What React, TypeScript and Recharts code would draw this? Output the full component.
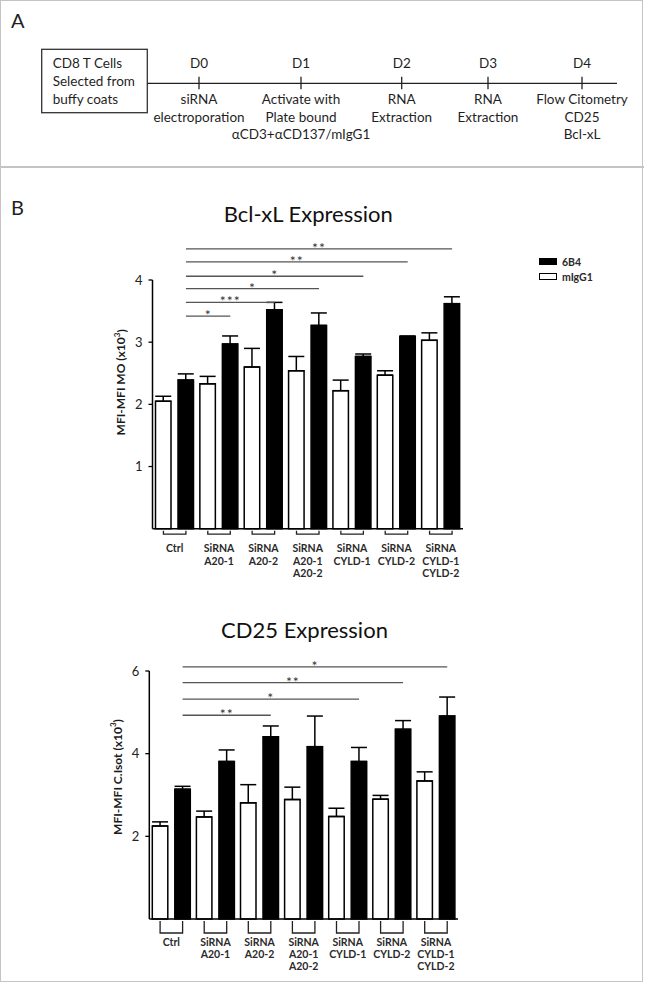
import React from "react";
import { Bar, BarChart, ErrorBar, Legend, ReferenceLine, XAxis, YAxis } from "recharts";

// groups along the x axis (space separated words become stacked label lines)
const categories = [
  "Ctrl",
  "SiRNA A20-1",
  "SiRNA A20-2",
  "SiRNA A20-1 A20-2",
  "SiRNA CYLD-1",
  "SiRNA CYLD-2",
  "SiRNA CYLD-1 CYLD-2",
];

// Bcl-xL, MFI-MFI MO (x10^3)
const bclIgg = [2.05, 2.33, 2.6, 2.54, 2.22, 2.47, 3.03];
const bclIggErr = [0.08, 0.12, 0.3, 0.23, 0.17, 0.07, 0.12];
const bcl6b4 = [2.39, 2.97, 3.52, 3.27, 2.77, 3.09, 3.62];
const bcl6b4Err = [0.1, 0.13, 0.12, 0.2, 0.04, 0.01, 0.11];
const bclTicks = [1, 2, 3, 4];

// CD25, MFI-MFI C.Isot (x10^3)
const cdIgg = [2.25, 2.47, 2.81, 2.89, 2.48, 2.9, 3.34];
const cdIggErr = [0.1, 0.14, 0.44, 0.3, 0.2, 0.09, 0.22];
const cd6b4 = [3.14, 3.81, 4.41, 4.17, 3.81, 4.59, 4.91];
const cd6b4Err = [0.07, 0.28, 0.26, 0.74, 0.34, 0.21, 0.46];
const cdTicks = [2, 4, 6];

type Sig = { to: string; y: number; stars: string };

const bclSig: Sig[] = [
  { to: "SiRNA A20-1", y: 3.42, stars: "*" },
  { to: "SiRNA A20-2", y: 3.64, stars: "***" },
  { to: "SiRNA A20-1 A20-2", y: 3.86, stars: "*" },
  { to: "SiRNA CYLD-1", y: 4.06, stars: "*" },
  { to: "SiRNA CYLD-2", y: 4.29, stars: "**" },
  { to: "SiRNA CYLD-1 CYLD-2", y: 4.5, stars: "**" },
];

const cdSig: Sig[] = [
  { to: "SiRNA A20-2", y: 4.93, stars: "**" },
  { to: "SiRNA CYLD-1", y: 5.32, stars: "*" },
  { to: "SiRNA CYLD-2", y: 5.72, stars: "**" },
  { to: "SiRNA CYLD-1 CYLD-2", y: 6.1, stars: "*" },
];

const legendItems = [
  { name: "6B4", fill: "#000" },
  { name: "mIgG1", fill: "#fff" },
];

// timeline of panel A
const days = ["D0", "D1", "D2", "D3", "D4"];
const dayNotes = [
  ["siRNA", "electroporation"],
  ["Activate with", "Plate bound", "αCD3+αCD137/mIgG1"],
  ["RNA", "Extraction"],
  ["RNA", "Extraction"],
  ["Flow Citometry", "CD25", "Bcl-xL"],
];
const startBox = ["CD8 T Cells", "Selected from", "buffy coats"];
const dayX = [199, 301, 401.7, 488, 582];

const BAR = 15.5;
const GAP = 7;
const HALF = (BAR + GAP) / 2;
const FONT = "Lato, 'Open Sans', sans-serif";

function buildRows(igg: number[], iggErr: number[], b4: number[], b4Err: number[]) {
  return categories.map((name, i) => ({
    name,
    igg: igg[i],
    iggErr: [0, iggErr[i]],
    b4: b4[i],
    b4Err: [0, b4Err[i]],
  }));
}

function CategoryTick(props: any) {
  const { x, y, payload, drop, labelTop, lineGap } = props;
  const lines = String(payload.value).split(" ");
  return (
    <g>
      <path
        d={`M${x - HALF},${y + 2} V${y + drop} H${x + HALF} V${y + 2}`}
        fill="none"
        stroke="#222"
        strokeWidth={1.3}
      />
      {lines.map((l, i) => (
        <text
          key={i}
          x={x}
          y={y + labelTop + i * lineGap}
          textAnchor="middle"
          fontSize={10.5}
          fontWeight={700}
          fill="#2a2a2a"
          fontFamily={FONT}
        >
          {l}
        </text>
      ))}
    </g>
  );
}

function AxisTitle(props: any) {
  const { viewBox, text, shift } = props;
  const cx = viewBox.x + viewBox.width - 32;
  const cy = viewBox.y + viewBox.height / 2 + shift;
  return (
    <text
      transform={`translate(${cx},${cy}) rotate(-90)`}
      textAnchor="middle"
      dominantBaseline="central"
      fontSize={12}
      fontWeight={700}
      fill="#1a1a1a"
      fontFamily={FONT}
    >
      {text}
      <tspan dy={-4} fontSize={8}>
        3
      </tspan>
      <tspan dy={4}>)</tspan>
    </text>
  );
}

function sigShape(stars: string) {
  return (p: any) => {
    const x1 = p.x1 + HALF;
    const x2 = p.x2 + HALF;
    return (
      <g>
        <line x1={x1} y1={p.y1} x2={x2} y2={p.y2} stroke="#555" strokeWidth={1.3} />
        <text
          x={(x1 + x2) / 2}
          y={p.y1 + 4}
          textAnchor="middle"
          fontSize={14}
          letterSpacing={1}
          fill="#333"
          fontFamily={FONT}
        >
          {stars}
        </text>
      </g>
    );
  };
}

function LegendBox() {
  return (
    <div style={{ fontFamily: FONT }}>
      {legendItems.map((it) => (
        <div key={it.name} style={{ display: "flex", alignItems: "center", height: 15 }}>
          <div
            style={{
              width: 16,
              height: 5,
              background: it.fill,
              border: "1.5px solid #000",
              marginRight: 5,
            }}
          />
          <span style={{ fontSize: 10.5, fontWeight: 700, color: "#2a2a2a" }}>{it.name}</span>
        </div>
      ))}
    </div>
  );
}

type PanelProps = {
  rows: ReturnType<typeof buildRows>;
  domain: [number, number];
  ticks: number[];
  sig: Sig[];
  top: number;
  height: number;
  margin: { top: number; right: number; bottom: number; left: number };
  axisHeight: number;
  yLabel: string;
  labelShift: number;
  drop: number;
  labelTop: number;
  lineGap: number;
  legend?: boolean;
};

function ExpressionChart(p: PanelProps) {
  return (
    <div style={{ position: "absolute", left: 0, top: p.top, width: 646, height: p.height }}>
      <BarChart width={646} height={p.height} data={p.rows} margin={p.margin} barSize={BAR} barGap={GAP}>
        <XAxis
          dataKey="name"
          interval={0}
          height={p.axisHeight}
          tickSize={0}
          tickMargin={0}
          tickLine={false}
          axisLine={{ stroke: "#000", strokeWidth: 1.5 }}
          tick={(t: any) => <CategoryTick {...t} drop={p.drop} labelTop={p.labelTop} lineGap={p.lineGap} />}
        />
        <YAxis
          domain={p.domain}
          ticks={p.ticks}
          width={60}
          tickSize={4}
          tickMargin={6}
          axisLine={{ stroke: "#000", strokeWidth: 1.5 }}
          tickLine={{ stroke: "#000", strokeWidth: 1.3 }}
          tick={{ fontSize: 13, fill: "#222", fontFamily: FONT }}
          label={<AxisTitle text={p.yLabel} shift={p.labelShift} />}
        />
        {p.legend && (
          <Legend
            layout="vertical"
            align="center"
            verticalAlign="middle"
            wrapperStyle={{ top: 84, left: 539, width: 100 }}
            content={() => <LegendBox />}
          />
        )}
        <Bar dataKey="igg" name="mIgG1" fill="#fff" stroke="#000" strokeWidth={1.5} isAnimationActive={false}>
          <ErrorBar dataKey="iggErr" direction="y" width={8} stroke="#000" strokeWidth={1.5} />
        </Bar>
        <Bar dataKey="b4" name="6B4" fill="#000" stroke="#000" strokeWidth={1.5} isAnimationActive={false}>
          <ErrorBar dataKey="b4Err" direction="y" width={8} stroke="#000" strokeWidth={1.5} />
        </Bar>
        {p.sig.map((s) => (
          <ReferenceLine
            key={s.to}
            ifOverflow="visible"
            segment={[
              { x: categories[0], y: s.y },
              { x: s.to, y: s.y },
            ]}
            shape={sigShape(s.stars)}
          />
        ))}
      </BarChart>
    </div>
  );
}

function PanelA() {
  return (
    <g fontFamily={FONT} fill="#1f1f1f">
      <text x={11} y={28} fontSize={20}>
        A
      </text>
      <rect x={41.7} y={49.3} width={105.6} height={63.4} fill="none" stroke="#333" strokeWidth={1.3} />
      {startBox.map((t, i) => (
        <text key={t} x={52.7} y={68.2 + i * 17.8} fontSize={13.5}>
          {t}
        </text>
      ))}
      <line x1={147.3} y1={83.3} x2={617} y2={83.3} stroke="#222" strokeWidth={1.3} />
      {days.map((d, i) => (
        <g key={d}>
          <line x1={dayX[i]} y1={76.7} x2={dayX[i]} y2={89.3} stroke="#222" strokeWidth={1.3} />
          <text x={dayX[i]} y={68.2} fontSize={13.5} textAnchor="middle">
            {d}
          </text>
          {dayNotes[i].map((n, j) => (
            <text key={j} x={dayX[i]} y={104 + j * 17.6} fontSize={13.5} textAnchor="middle">
              {n}
            </text>
          ))}
        </g>
      ))}
    </g>
  );
}

export default function App() {
  const bclRows = buildRows(bclIgg, bclIggErr, bcl6b4, bcl6b4Err);
  const cdRows = buildRows(cdIgg, cdIggErr, cd6b4, cd6b4Err);
  return (
    <div
      style={{
        position: "absolute",
        left: 0,
        top: 0,
        width: 646,
        height: 983,
        background: "#fff",
        fontFamily: FONT,
        overflow: "hidden",
      }}
    >
      <div
        style={{
          position: "absolute",
          left: 0,
          top: 0,
          width: 641,
          height: 980,
          border: "1.5px solid #c4c4c4",
        }}
      />
      <div style={{ position: "absolute", left: 0, top: 166, width: 644, height: 1.5, background: "#c4c4c4" }} />
      <svg width={646} height={983} style={{ position: "absolute", left: 0, top: 0 }}>
        <PanelA />
        <text x={11} y={215} fontSize={20} fontFamily={FONT} fill="#1f1f1f">
          B
        </text>
        <text x={308.3} y={222.3} fontSize={22} textAnchor="middle" fontFamily={FONT} fill="#111">
          Bcl-xL Expression
        </text>
        <text x={304.5} y={637.5} fontSize={22} textAnchor="middle" fontFamily={FONT} fill="#111">
          CD25 Expression
        </text>
      </svg>
      <ExpressionChart
        rows={bclRows}
        domain={[0, 4]}
        ticks={bclTicks}
        sig={bclSig}
        top={170}
        height={430}
        margin={{ top: 110, right: 183, bottom: 11.3, left: 92.5 }}
        axisHeight={60}
        yLabel="MFI-MFI MO (x10"
        labelShift={-22}
        drop={5.5}
        labelTop={23.5}
        lineGap={12.5}
        legend
      />
      <ExpressionChart
        rows={cdRows}
        domain={[0, 6]}
        ticks={cdTicks}
        sig={cdSig}
        top={600}
        height={383}
        margin={{ top: 71, right: 188, bottom: 9, left: 89.3 }}
        axisHeight={55}
        yLabel="MFI-MFI C.Isot (x10"
        labelShift={-18}
        drop={14}
        labelTop={27}
        lineGap={11.8}
      />
    </div>
  );
}
